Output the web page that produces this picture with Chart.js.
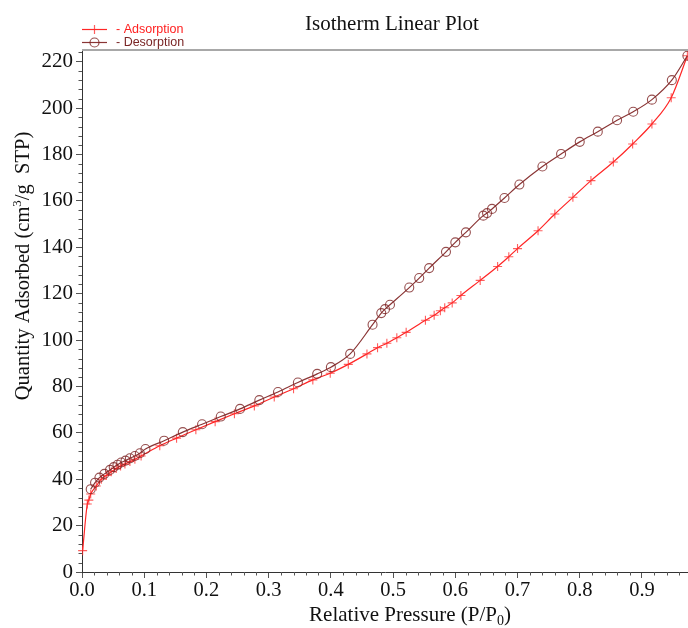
<!DOCTYPE html>
<html><head><meta charset="utf-8">
<style>html,body{margin:0;padding:0;background:#fff}#wrap{width:688px;height:628px;position:relative}canvas{display:block}</style>
<script src="https://cdn.jsdelivr.net/npm/chart.js@4.4.1/dist/chart.umd.min.js"></script>
</head><body><div id="wrap"><canvas id="c" width="688" height="628"></canvas></div>
<script>
// ---- data ----
const adsX = [0.001,0.0085,0.011,0.014,0.023,0.031,0.039,0.047,0.055,0.062,0.069,0.077,0.085,0.095,0.125,0.152,0.183,0.214,0.245,0.277,0.309,0.340,0.371,0.399,0.428,0.458,0.475,0.490,0.506,0.521,0.552,0.566,0.576,0.583,0.595,0.609,0.640,0.668,0.686,0.700,0.733,0.760,0.789,0.818,0.854,0.885,0.916,0.947,0.973];
const adsY = [9.2,29.3,31.0,33.6,37.1,40.0,41.6,43.2,44.6,45.7,46.5,47.6,48.6,50.0,54.4,57.7,61.3,64.8,68.2,71.6,75.4,79.0,82.8,85.7,89.5,94.0,96.7,98.6,101.0,103.3,108.5,110.7,112.6,113.9,116.0,119.2,125.7,131.7,135.9,139.4,147.1,154.3,161.5,168.7,176.7,184.5,193.1,204.4,222.5];
const desX = [0.014,0.021,0.028,0.036,0.045,0.051,0.057,0.063,0.070,0.077,0.085,0.093,0.102,0.132,0.162,0.193,0.223,0.254,0.285,0.315,0.347,0.378,0.400,0.431,0.467,0.481,0.487,0.495,0.526,0.542,0.558,0.585,0.600,0.617,0.645,0.651,0.659,0.679,0.703,0.740,0.770,0.800,0.829,0.860,0.886,0.916,0.948,0.973];
const desY = [35.7,38.5,40.7,42.3,44.0,45.2,46.2,47.2,48.0,49.0,50.0,51.2,53.0,56.6,60.3,63.7,67.0,70.3,74.1,77.6,81.7,85.4,88.3,94.0,106.6,111.6,113.3,115.2,122.6,126.7,131.0,138.0,142.1,146.4,153.6,154.7,156.5,161.2,167.0,174.8,180.2,185.4,189.8,194.7,198.4,203.6,212.0,222.5];
const xTicks = [0,0.1,0.2,0.3,0.4,0.5,0.6,0.7,0.8,0.9];
const yTicks = [0,20,40,60,80,100,120,140,160,180,200,220];
const xMinorStep = 0.02, yMinorStep = 4;
const xMax = 0.974, yMax = 225;
const titleText = 'Isotherm Linear Plot';
const seriesNames = ['- Adsorption','- Desorption'];

const ADS = '#ff2626', ADS_PT = 'rgba(255,40,40,0.75)';
const DES = '#8a3535', DES_PT = 'rgba(125,35,35,0.8)';
const SERIF = '"Liberation Serif","Times New Roman",serif';
const SANS = '"Liberation Sans",Arial,sans-serif';

const toPts = (xs, ys) => xs.map((x, i) => ({x, y: ys[i]}));

function drawRich(ctx, parts, x, y, align) {
  let total = 0;
  parts.forEach(p => { ctx.font = p[1] + 'px ' + SERIF; total += ctx.measureText(p[0]).width; });
  let cx = align === 'center' ? x - total / 2 : x;
  parts.forEach(p => {
    ctx.font = p[1] + 'px ' + SERIF;
    ctx.fillText(p[0], cx, y + p[2]);
    cx += ctx.measureText(p[0]).width;
  });
}

const decor = {
  id: 'decor',
  afterDraw(chart) {
    const ctx = chart.ctx, a = chart.chartArea;
    const xs = chart.scales.x, ys = chart.scales.y;
    ctx.save();
    ctx.strokeStyle = '#a8a8a8'; ctx.lineWidth = 2;
    ctx.beginPath(); ctx.moveTo(a.left, a.top); ctx.lineTo(a.right, a.top); ctx.stroke();
    ctx.strokeStyle = '#555'; ctx.lineWidth = 1;
    ctx.beginPath();
    for (let v = xMinorStep; v <= xMax + 1e-9; v += xMinorStep) {
      if (Math.abs(v * 10 - Math.round(v * 10)) < 1e-6) continue;
      const px = Math.round(xs.getPixelForValue(v)) + 0.5;
      ctx.moveTo(px, a.bottom); ctx.lineTo(px, a.bottom + 3.5);
    }
    for (let v = yMinorStep; v <= yMax; v += yMinorStep) {
      if (v % 20 === 0) continue;
      const py = Math.round(ys.getPixelForValue(v)) + 0.5;
      ctx.moveTo(a.left, py); ctx.lineTo(a.left - 3.5, py);
    }
    ctx.stroke();
    ctx.fillStyle = '#111'; ctx.textAlign = 'center'; ctx.textBaseline = 'alphabetic';
    ctx.font = '21px ' + SERIF;
    ctx.fillText(titleText, 392, 30);
    ctx.textAlign = 'left';
    drawRich(ctx, [['Relative Pressure (P/P', 21, 0], ['0', 14, 4], [')', 21, 0]], 410, 621, 'center');
    ctx.save();
    ctx.translate(29, 266); ctx.rotate(-Math.PI / 2);
    drawRich(ctx, [['Quantity Adsorbed (cm', 20.5, 0], ['3', 13, -8], ['/g  STP)', 20.5, 0]], 0, 0, 'center');
    ctx.restore();
    ctx.font = '12.5px ' + SANS; ctx.textBaseline = 'middle'; ctx.textAlign = 'left';
    ctx.strokeStyle = ADS; ctx.lineWidth = 1.2;
    ctx.beginPath(); ctx.moveTo(82, 29.5); ctx.lineTo(107, 29.5); ctx.stroke();
    ctx.strokeStyle = ADS_PT;
    ctx.beginPath(); ctx.moveTo(94.5, 25); ctx.lineTo(94.5, 34); ctx.moveTo(90, 29.5); ctx.lineTo(99, 29.5); ctx.stroke();
    ctx.fillStyle = '#ff2020'; ctx.fillText(seriesNames[0], 116, 29.5);
    ctx.strokeStyle = DES; ctx.lineWidth = 1.2;
    ctx.beginPath(); ctx.moveTo(82, 42.5); ctx.lineTo(107, 42.5); ctx.stroke();
    ctx.strokeStyle = DES_PT;
    ctx.beginPath(); ctx.arc(94.5, 42.5, 4.5, 0, Math.PI * 2); ctx.stroke();
    ctx.fillStyle = '#7a2626'; ctx.fillText(seriesNames[1], 116, 42.5);
    ctx.restore();
  }
};

new Chart(document.getElementById('c'), {
  type: 'scatter',
  data: {
    datasets: [
      { label: 'Desorption', data: toPts(desX, desY), showLine: true, order: 0,
        borderColor: DES, borderWidth: 1.2, pointStyle: 'circle', pointRadius: 4.5,
        pointBorderColor: DES_PT, pointBackgroundColor: 'rgba(0,0,0,0)', pointBorderWidth: 1.1,
        cubicInterpolationMode: 'monotone', clip: 6 },
      { label: 'Adsorption', data: toPts(adsX, adsY), showLine: true, order: 1,
        borderColor: ADS, borderWidth: 1.2, pointStyle: 'cross', pointRadius: 4.5,
        pointBorderColor: ADS_PT, pointBackgroundColor: ADS_PT, pointBorderWidth: 1.1,
        cubicInterpolationMode: 'monotone', clip: 6 }
    ]
  },
  options: {
    responsive: false, animation: false, devicePixelRatio: 1,
    layout: { autoPadding: false, padding: { top: 50, left: 0, right: 0, bottom: 0 } },
    plugins: { legend: { display: false }, title: { display: false }, tooltip: { enabled: false } },
    scales: {
      x: {
        type: 'linear', position: 'bottom', min: 0, max: xMax,
        afterFit: s => { s.height = 56; s.paddingLeft = 0; s.paddingRight = 0; s.paddingTop = 0; s.paddingBottom = 0; },
        afterBuildTicks: s => { s.ticks = xTicks.map(v => ({ value: v })); },
        ticks: { callback: v => Number(v).toFixed(1), color: '#111', font: { family: SERIF, size: 20.5 }, padding: 0, maxRotation: 0, autoSkip: false },
        grid: { drawOnChartArea: false, drawTicks: true, tickLength: 6, color: '#555' },
        border: { display: true, color: '#333', width: 1 }
      },
      y: {
        type: 'linear', position: 'left', min: 0, max: yMax,
        afterFit: s => { s.width = 82; s.paddingLeft = 0; s.paddingRight = 0; s.paddingTop = 0; s.paddingBottom = 0; },
        afterBuildTicks: s => { s.ticks = yTicks.map(v => ({ value: v })); },
        ticks: { callback: v => String(v), color: '#111', font: { family: SERIF, size: 21 }, padding: 3, autoSkip: false },
        grid: { drawOnChartArea: false, drawTicks: true, tickLength: 6, color: '#555' },
        border: { display: true, color: '#333', width: 1 }
      }
    }
  },
  plugins: [decor]
});
</script>
</body></html>
